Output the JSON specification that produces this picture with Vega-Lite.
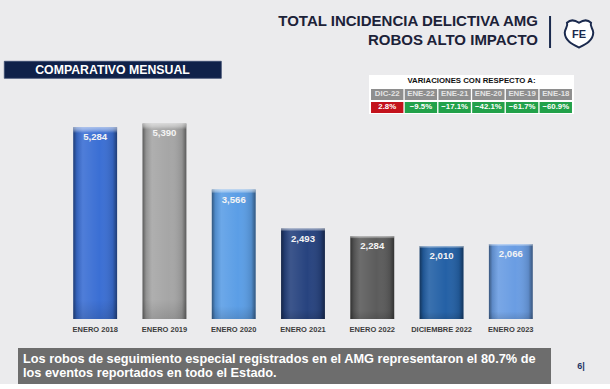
{
  "$schema": "https://vega.github.io/schema/vega-lite/v6.json",
  "background": "#ebebed",
  "padding": {"left": 3, "top": 8, "right": 0, "bottom": 0},
  "config": {"view": {"stroke": null}, "font": "Liberation Sans"},
  "datasets": {
    "titulo": [
      {"linea": 1, "texto": "TOTAL INCIDENCIA DELICTIVA AMG"},
      {"linea": 2, "texto": "ROBOS ALTO IMPACTO"}
    ],
    "barras": [
      {"periodo": "ENERO 2018", "robos": 5284},
      {"periodo": "ENERO 2019", "robos": 5390},
      {"periodo": "ENERO 2020", "robos": 3566},
      {"periodo": "ENERO 2021", "robos": 2493},
      {"periodo": "ENERO 2022", "robos": 2284},
      {"periodo": "DICIEMBRE 2022", "robos": 2010},
      {"periodo": "ENERO 2023", "robos": 2066}
    ],
    "variaciones": [
      {"referencia": "DIC-22", "variacion": 0.028},
      {"referencia": "ENE-22", "variacion": -0.095},
      {"referencia": "ENE-21", "variacion": -0.171},
      {"referencia": "ENE-20", "variacion": -0.421},
      {"referencia": "ENE-19", "variacion": -0.617},
      {"referencia": "ENE-18", "variacion": -0.609}
    ],
    "filas": [{"fila": "titulo"}, {"fila": "periodo"}, {"fila": "valor"}],
    "encabezado": [{"texto": "VARIACIONES CON RESPECTO A:"}],
    "nota": [
      {"linea": 1, "texto": "Los robos de seguimiento especial registrados en el AMG representaron el 80.7% de"},
      {"linea": 2, "texto": "los eventos reportados en todo el Estado."}
    ],
    "vacio": []
  },
  "spacing": 0,
  "vconcat": [
    {
      "spacing": 0,
      "hconcat": [
        {
          "width": 542,
          "height": 52,
          "data": {"name": "titulo"},
          "mark": {"type": "text", "x": "width", "dx": -8, "align": "right", "baseline": "middle", "font": "Liberation Sans", "fontWeight": "bold", "fontSize": 15, "fill": "#1c2238"},
          "encoding": {
            "y": {"field": "linea", "type": "ordinal", "axis": null, "scale": {"type": "band", "paddingInner": 0, "paddingOuter": 0.368, "align": 0.25}},
            "text": {"field": "texto"}
          }
        },
        {
          "width": 56,
          "height": 52,
          "data": {"values": [{"sigla": "FE"}]},
          "layer": [
            {
              "mark": {"type": "point", "shape": "M0,-0.75 C0.3,-0.95 0.6,-0.95 0.8,-0.75 C0.7,-0.5 0.95,-0.35 0.95,-0.1 C0.95,0.45 0.4,0.7 0,0.9 C-0.4,0.7 -0.95,0.45 -0.95,-0.1 C-0.95,-0.35 -0.7,-0.5 -0.8,-0.75 C-0.6,-0.95 -0.3,-0.95 0,-0.75 Z M-1.93,-1.2 L-1.93,0.93", "size": 900, "filled": true, "fill": "#ffffff", "stroke": "#1b2a4e", "strokeWidth": 2, "opacity": 1, "fillOpacity": 1, "strokeOpacity": 1},
              "encoding": {}
            },
            {
              "mark": {"type": "text", "font": "Liberation Sans", "fontWeight": "bold", "fontSize": 11, "fill": "#1b2a4e", "baseline": "middle", "dy": 1},
              "encoding": {"text": {"field": "sigla"}}
            }
          ]
        }
      ]
    },
    {
      "spacing": 147,
      "hconcat": [
        {
          "width": 217,
          "height": 17,
          "view": {"fill": "#0f2149", "stroke": "#3a4a6e", "strokeWidth": 0.8},
          "data": {"values": [{"texto": "COMPARATIVO MENSUAL"}]},
          "mark": {"type": "text", "fill": "#ffffff", "font": "Liberation Sans", "fontWeight": "bold", "fontSize": 12.3, "baseline": "middle"},
          "encoding": {"text": {"field": "texto"}}
        },
        {
          "width": 205,
          "height": 53,
          "layer": [
            {
              "data": {"name": "filas"},
              "mark": {"type": "rect", "fill": "#ffffff"},
              "encoding": {
                "y": {"field": "fila", "type": "nominal", "axis": null, "scale": {"domain": ["titulo", "periodo", "valor"], "paddingInner": 0, "paddingOuter": 0.538, "align": 1}}
              }
            },
            {
              "data": {"name": "variaciones"},
              "mark": {"type": "rect", "fill": "#8e8e8e", "height": {"band": 0.85}},
              "encoding": {
                "x": {"field": "referencia", "type": "nominal", "axis": null, "sort": null, "scale": {"domain": ["DIC-22", "ENE-22", "ENE-21", "ENE-20", "ENE-19", "ENE-18"], "paddingInner": 0.04, "paddingOuter": 0.06}},
                "y": {"datum": "periodo", "type": "nominal", "axis": null, "scale": {"domain": ["titulo", "periodo", "valor"], "paddingInner": 0, "paddingOuter": 0.538, "align": 1}}
              }
            },
            {
              "data": {"name": "variaciones"},
              "mark": {"type": "text", "fill": "#e4e4e4", "font": "Liberation Sans", "fontWeight": "bold", "fontSize": 7.8, "baseline": "middle"},
              "encoding": {
                "x": {"field": "referencia", "type": "nominal", "axis": null, "sort": null, "scale": {"domain": ["DIC-22", "ENE-22", "ENE-21", "ENE-20", "ENE-19", "ENE-18"], "paddingInner": 0.04, "paddingOuter": 0.06}},
                "y": {"datum": "periodo", "type": "nominal", "axis": null, "scale": {"domain": ["titulo", "periodo", "valor"], "paddingInner": 0, "paddingOuter": 0.538, "align": 1}},
                "text": {"field": "referencia"}
              }
            },
            {
              "data": {"name": "variaciones"},
              "mark": {"type": "rect", "height": {"band": 0.85}},
              "encoding": {
                "x": {"field": "referencia", "type": "nominal", "axis": null, "sort": null, "scale": {"domain": ["DIC-22", "ENE-22", "ENE-21", "ENE-20", "ENE-19", "ENE-18"], "paddingInner": 0.04, "paddingOuter": 0.06}},
                "y": {"datum": "valor", "type": "nominal", "axis": null, "scale": {"domain": ["titulo", "periodo", "valor"], "paddingInner": 0, "paddingOuter": 0.538, "align": 1}},
                "fill": {"condition": {"test": "datum.variacion > 0", "value": "#c3121c"}, "value": "#22a14a"}
              }
            },
            {
              "data": {"name": "variaciones"},
              "mark": {"type": "text", "fill": "#ffffff", "font": "Liberation Sans", "fontWeight": "bold", "fontSize": 7.8, "baseline": "middle"},
              "encoding": {
                "x": {"field": "referencia", "type": "nominal", "axis": null, "sort": null, "scale": {"domain": ["DIC-22", "ENE-22", "ENE-21", "ENE-20", "ENE-19", "ENE-18"], "paddingInner": 0.04, "paddingOuter": 0.06}},
                "y": {"datum": "valor", "type": "nominal", "axis": null, "scale": {"domain": ["titulo", "periodo", "valor"], "paddingInner": 0, "paddingOuter": 0.538, "align": 1}},
                "text": {"field": "variacion", "format": ".1%"}
              }
            },
            {
              "data": {"name": "encabezado"},
              "mark": {"type": "text", "fill": "#111111", "font": "Liberation Sans", "fontWeight": "bold", "fontSize": 7.8, "baseline": "middle"},
              "encoding": {
                "y": {"datum": "titulo", "type": "nominal", "axis": null, "scale": {"domain": ["titulo", "periodo", "valor"], "paddingInner": 0, "paddingOuter": 0.538, "align": 1}},
                "text": {"field": "texto"}
              }
            }
          ]
        }
      ]
    },
    {
      "width": 598,
      "height": 205,
      "data": {"name": "barras"},
      "encoding": {
        "x": {
          "field": "periodo", "type": "nominal", "sort": null, "title": null,
          "scale": {"paddingInner": 0.3676, "paddingOuter": 1.081},
          "axis": {"labelAngle": 0, "ticks": false, "domain": false, "grid": false, "labelPadding": 6, "labelBaseline": "top", "labelFont": "Liberation Sans", "labelFontWeight": "bold", "labelFontSize": 7.5, "labelColor": "#3c3c3c", "minExtent": 29, "maxExtent": 29}
        },
        "y": {"field": "robos", "type": "quantitative", "axis": null, "scale": {"domain": [0, 5650]}}
      },
      "layer": [
        {
          "mark": {"type": "bar"},
          "encoding": {
            "fill": {
              "field": "periodo", "type": "nominal", "legend": null,
              "scale": {
                "domain": ["ENERO 2018", "ENERO 2019", "ENERO 2020", "ENERO 2021", "ENERO 2022", "DICIEMBRE 2022", "ENERO 2023"],
                "range": ["#3b6fd4", "#a6a6a6", "#5b9ee6", "#27437f", "#5c5c5c", "#2461a6", "#6a9de3"]
              }
            }
          }
        },
        {
          "mark": {
            "type": "bar",
            "fill": {
              "gradient": "linear", "x1": 0, "y1": 0, "x2": 1, "y2": 0,
              "stops": [
                {"offset": 0, "color": "rgba(0,0,0,0.45)"},
                {"offset": 0.08, "color": "rgba(0,0,0,0.12)"},
                {"offset": 0.22, "color": "rgba(255,255,255,0.10)"},
                {"offset": 0.6, "color": "rgba(255,255,255,0.0)"},
                {"offset": 0.9, "color": "rgba(0,0,0,0.12)"},
                {"offset": 1, "color": "rgba(0,0,0,0.45)"}
              ]
            }
          }
        },
        {
          "mark": {
            "type": "bar",
            "fill": {
              "gradient": "linear", "x1": 0, "y1": 0, "x2": 0, "y2": 1,
              "stops": [
                {"offset": 0, "color": "rgba(255,255,255,0.55)"},
                {"offset": 0.015, "color": "rgba(255,255,255,0.35)"},
                {"offset": 0.03, "color": "rgba(255,255,255,0.0)"},
                {"offset": 0.9, "color": "rgba(0,0,0,0.0)"},
                {"offset": 1, "color": "rgba(0,0,0,0.12)"}
              ]
            }
          }
        },
        {
          "mark": {"type": "text", "baseline": "top", "dy": 5, "fill": "#f4f4f4", "font": "Liberation Sans", "fontWeight": "bold", "fontSize": 9.6},
          "encoding": {"text": {"field": "robos", "type": "quantitative", "format": ","}}
        }
      ]
    },
    {
      "spacing": 0,
      "hconcat": [
        {
          "width": 14,
          "height": 36,
          "data": {"name": "vacio"},
          "mark": {"type": "rect"},
          "encoding": {}
        },
        {
          "width": 533,
          "height": 36,
          "view": {"fill": "#6d6d6d", "stroke": null},
          "data": {"name": "nota"},
          "mark": {"type": "text", "x": 0, "dx": 5, "align": "left", "baseline": "middle", "fill": "#ffffff", "font": "Liberation Sans", "fontWeight": "bold", "fontSize": 12.75},
          "encoding": {
            "y": {"field": "linea", "type": "ordinal", "axis": null, "scale": {"type": "band", "paddingInner": 0, "paddingOuter": 0.24}},
            "text": {"field": "texto"}
          }
        },
        {
          "width": 60,
          "height": 36,
          "data": {"values": [{"pagina": "6|"}]},
          "mark": {"type": "text", "fill": "#1f3566", "font": "Liberation Sans", "fontWeight": "bold", "fontSize": 9, "baseline": "middle"},
          "encoding": {"text": {"field": "pagina"}}
        }
      ]
    }
  ]
}
